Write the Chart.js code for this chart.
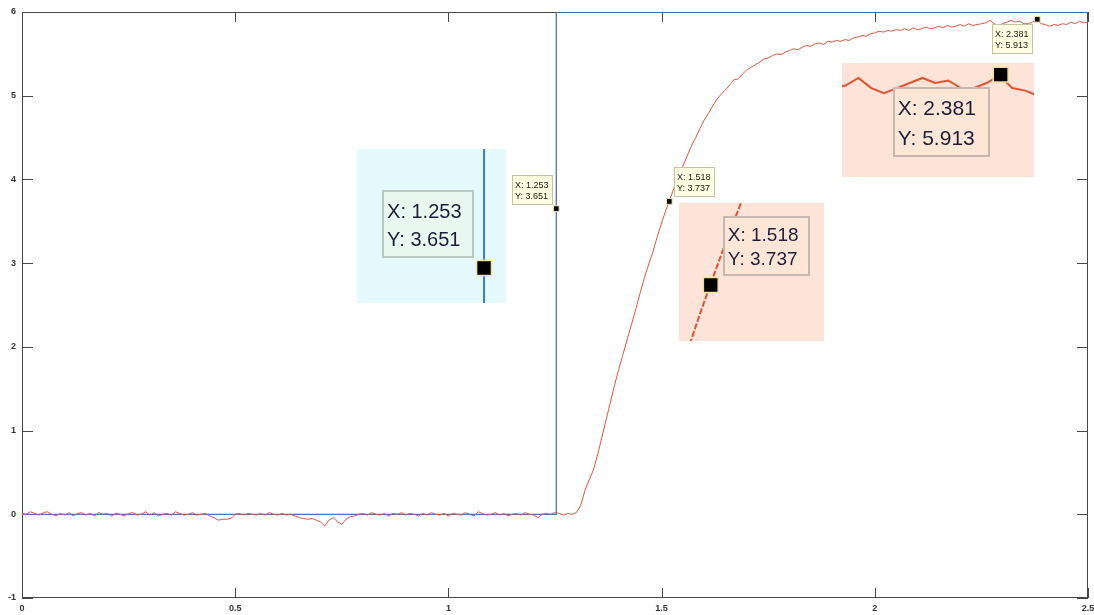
<!DOCTYPE html>
<html>
<head>
<meta charset="utf-8">
<title>Step input and measured response</title>
<script src="https://cdn.jsdelivr.net/npm/chart.js@4.4.1/dist/chart.umd.min.js"></script>
<style>
  html, body { margin: 0; padding: 0; background: #ffffff; overflow: hidden; }
  #wrap { position: relative; width: 1094px; height: 615px; }
  #main { position: absolute; left: 0; top: 0; }
  .inset { position: absolute; }
</style>
</head>
<body>
<div id="wrap"><canvas id="main" width="1094" height="615"></canvas></div>
<script>
// ---- data -------------------------------------------------------------
// measured response, one sample every SAMPLE_DT seconds starting at t = 0
const SAMPLE_DT = 0.01;
const responseY = [
  0.01, 0.00, 0.03, 0.01, -0.01, 0.02, 0.03, 0.00, -0.02, 0.01,
  -0.01, 0.02, -0.02, 0.01, 0.02, -0.01, 0.01, -0.02, 0.02, 0.00,
  0.01, -0.02, 0.01, 0.00, -0.02, 0.01, 0.02, -0.01, 0.00, 0.03,
  -0.01, 0.02, -0.02, 0.00, 0.01, -0.01, 0.03, 0.01, -0.01, 0.00,
  0.02, -0.01, 0.00, 0.01, -0.02, -0.04, -0.07, -0.06, -0.06, -0.05,
  0.00, 0.01, -0.01, 0.01, 0.00, -0.01, 0.01, -0.01, 0.02, 0.00,
  -0.01, 0.01, -0.01, 0.00, -0.02, -0.04, -0.05, -0.06, -0.05, -0.07,
  -0.09, -0.14, -0.07, -0.04, -0.09, -0.12, -0.06, -0.03, -0.02, 0.00,
  0.01, -0.01, 0.02, 0.00, -0.01, 0.01, -0.02, 0.01, 0.00, 0.02,
  -0.01, 0.01, 0.00, -0.02, 0.01, -0.01, 0.02, 0.00, -0.01, 0.01,
  -0.02, 0.01, 0.00, -0.01, 0.02, 0.00, -0.02, 0.03, 0.01, -0.01,
  0.00, 0.02, -0.01, 0.01, -0.02, 0.00, 0.01, -0.01, 0.02, 0.00,
  -0.01, -0.04, 0.00, 0.01, 0.00, 0.02, 0.01, -0.01, 0.01, 0.00,
  0.02, 0.10, 0.28, 0.41, 0.53, 0.71, 0.92, 1.13, 1.34, 1.55,
  1.74, 1.92, 2.10, 2.28, 2.46, 2.65, 2.83, 2.99, 3.14, 3.32,
  3.48, 3.63, 3.77, 3.91, 4.04, 4.16, 4.28, 4.40, 4.50, 4.61,
  4.71, 4.79, 4.88, 4.96, 5.02, 5.07, 5.13, 5.19, 5.20, 5.26,
  5.31, 5.34, 5.37, 5.40, 5.44, 5.45, 5.48, 5.50, 5.49, 5.52,
  5.54, 5.56, 5.55, 5.58, 5.60, 5.59, 5.62, 5.63, 5.61, 5.65,
  5.64, 5.66, 5.65, 5.67, 5.66, 5.69, 5.70, 5.72, 5.71, 5.74,
  5.75, 5.77, 5.76, 5.78, 5.77, 5.79, 5.78, 5.80, 5.78, 5.81,
  5.79, 5.80, 5.82, 5.80, 5.81, 5.83, 5.81, 5.84, 5.82, 5.83,
  5.85, 5.83, 5.86, 5.84, 5.85, 5.86, 5.87, 5.90, 5.86, 5.84,
  5.86, 5.88, 5.90, 5.88, 5.89, 5.86, 5.86, 5.88, 5.91, 5.86,
  5.85, 5.83, 5.85, 5.84, 5.86, 5.85, 5.88, 5.86, 5.89, 5.87, 5.88
];

// commanded step input
const stepX = [0, 1.253, 1.253, 2.5];
const stepY = [0, 0, 6, 6];

// data cursors
const tipX = [1.253, 1.518, 2.381];
const tipY = [3.651, 3.737, 5.913];

// axis ticks
const xTicks = [0, 0.5, 1, 1.5, 2, 2.5];
const yTicks = [-1, 0, 1, 2, 3, 4, 5, 6];

// ---- derived point lists ---------------------------------------------
const responsePts = responseY.map((v, i) => ({ x: +(i * SAMPLE_DT).toFixed(2), y: v }));
const stepPts = stepX.map((v, i) => ({ x: v, y: stepY[i] }));
const tipPts = tipX.map((v, i) => ({ x: v, y: tipY[i] }));

const FONT = '"Liberation Sans", Arial, Helvetica, sans-serif';
Chart.defaults.font.family = FONT;

const RED = '#e2553b';
const BLUE = '#4672c8';

// ---- plugins ----------------------------------------------------------
// box around the axes with inward ticks on all four sides
const axesBox = {
  id: 'axesBox',
  beforeDatasetsDraw(chart) {
    const { ctx, chartArea: a, scales: { x, y } } = chart;
    ctx.save();
    ctx.strokeStyle = '#474747';
    ctx.lineWidth = 1;
    ctx.strokeRect(a.left + 0.5, a.top + 0.5, a.right - a.left - 1, a.bottom - a.top - 1);
    ctx.beginPath();
    xTicks.forEach(v => {
      const px = Math.round(x.getPixelForValue(v)) + 0.5;
      ctx.moveTo(px, a.bottom); ctx.lineTo(px, a.bottom - 10);
      ctx.moveTo(px, a.top); ctx.lineTo(px, a.top + 10);
    });
    yTicks.forEach(v => {
      const py = Math.round(y.getPixelForValue(v)) + 0.5;
      ctx.moveTo(a.left, py); ctx.lineTo(a.left + 11, py);
      ctx.moveTo(a.right, py); ctx.lineTo(a.right - 11, py);
    });
    ctx.stroke();
    ctx.restore();
  }
};

// small yellow cursor labels next to each marker
const tipPlacement = [
  { side: 'left', gap: 3, dy: -34 },
  { side: 'right', gap: 5, dy: -34 },
  { side: 'left', gap: 4, dy: 5 }
];
const dataTips = {
  id: 'dataTips',
  afterDatasetsDraw(chart) {
    const { ctx, scales: { x, y } } = chart;
    ctx.save();
    ctx.font = '9px ' + FONT;
    ctx.textAlign = 'left';
    ctx.textBaseline = 'alphabetic';
    tipX.forEach((tx, i) => {
      const px = x.getPixelForValue(tx);
      const py = y.getPixelForValue(tipY[i]);
      const l1 = 'X: ' + tx.toFixed(3);
      const l2 = 'Y: ' + tipY[i].toFixed(3);
      const w = Math.ceil(Math.max(ctx.measureText(l1).width, ctx.measureText(l2).width)) + 7;
      const h = 30;
      const p = tipPlacement[i];
      const bx = Math.round(p.side === 'left' ? px - w - p.gap : px + p.gap);
      const by = Math.round(py + p.dy);
      ctx.fillStyle = '#ffffe1';
      ctx.fillRect(bx, by, w, h);
      ctx.strokeStyle = '#c2c2a4';
      ctx.lineWidth = 1;
      ctx.strokeRect(bx + 0.5, by + 0.5, w - 1, h - 1);
      ctx.fillStyle = '#151515';
      ctx.fillText(l1, bx + 3, by + 12.5);
      ctx.fillText(l2, bx + 3, by + 24);
    });
    ctx.restore();
  }
};

const tickLabel = v => String(v);

// ---- main chart -------------------------------------------------------
const mainChart = new Chart(document.getElementById('main'), {
  type: 'line',
  data: {
    datasets: [
      {
        label: 'cursor',
        data: tipPts,
        showLine: false,
        pointStyle: 'rect',
        pointRadius: 4,
        pointBackgroundColor: '#000000',
        pointBorderColor: '#e9e2a6',
        pointBorderWidth: 1
      },
      {
        label: 'response',
        data: responsePts,
        borderColor: RED,
        borderWidth: 1,
        pointRadius: 0,
        tension: 0
      },
      {
        label: 'input',
        data: stepPts,
        borderColor: BLUE,
        borderWidth: 1.3,
        pointRadius: 0,
        tension: 0
      }
    ]
  },
  options: {
    responsive: false,
    animation: false,
    devicePixelRatio: 1,
    events: [],
    layout: { autoPadding: false, padding: { top: 12, right: 6, left: 0, bottom: 0 } },
    plugins: { legend: { display: false }, tooltip: { enabled: false } },
    scales: {
      x: {
        type: 'linear',
        min: 0, max: 2.5,
        grid: { display: false, drawTicks: false },
        border: { display: false },
        afterBuildTicks: s => { s.ticks = xTicks.map(v => ({ value: v })); },
        afterFit: s => { s.height = 17; s.paddingLeft = 0; s.paddingRight = 0; },
        ticks: {
          autoSkip: false, maxRotation: 0, padding: 5,
          color: '#333333',
          font: { size: 9, weight: 'bold' },
          callback: tickLabel
        }
      },
      y: {
        type: 'linear',
        min: -1, max: 6,
        grid: { display: false, drawTicks: false },
        border: { display: false },
        afterBuildTicks: s => { s.ticks = yTicks.map(v => ({ value: v })); },
        afterFit: s => { s.width = 22; s.paddingTop = 0; s.paddingBottom = 0; },
        ticks: {
          autoSkip: false, padding: 6,
          color: '#333333',
          font: { size: 9, weight: 'bold' },
          callback: tickLabel
        }
      }
    }
  },
  plugins: [axesBox, dataTips]
});

// ---- magnified views around the cursors -------------------------------
const insetSpecs = [
  {
    tip: 0, series: 'input',
    area: { x0: 0.785, x1: 1.135, y0: 2.52, y1: 4.36 },
    view: { x0: 1.1535, x1: 1.2702, y0: 3.512, y1: 4.123 },
    bg: '#e3f9fc', labelBg: '#e8f8ee', labelEdge: '#b7cac2',
    fontSize: 20,
    box: { dx: -102, dy: -78, w: 92, h: 68 },
    text: { dx: -97, dy1: -50, dy2: -22 }
  },
  {
    tip: 1, series: 'response',
    area: { x0: 1.5408, x1: 1.8809, y0: 2.07, y1: 3.722 },
    view: { x0: 1.493, x1: 1.607, y0: 3.515, y1: 4.062 },
    bg: '#fde3d8', labelBg: '#fde6d6', labelEdge: '#c6b8b0',
    fontSize: 19,
    box: { dx: 12, dy: -69, w: 87, h: 60 },
    text: { dx: 17, dy1: -44, dy2: -20 }
  },
  {
    tip: 2, series: 'response',
    area: { x0: 1.9238, x1: 2.3734, y0: 4.033, y1: 5.388 },
    view: { x0: 2.2572, x1: 2.407, y0: 5.509, y1: 5.959 },
    bg: '#fde3d8', labelBg: '#fde6d6', labelEdge: '#c6b8b0',
    fontSize: 21,
    box: { dx: -108, dy: 12, w: 97, h: 70 },
    text: { dx: -103, dy1: 40, dy2: 70 }
  }
];

const wrap = document.getElementById('wrap');
const mx = mainChart.scales.x;
const my = mainChart.scales.y;

insetSpecs.forEach(spec => {
  const left = Math.round(mx.getPixelForValue(spec.area.x0));
  const right = Math.round(mx.getPixelForValue(spec.area.x1));
  const top = Math.round(my.getPixelForValue(spec.area.y1));
  const bottom = Math.round(my.getPixelForValue(spec.area.y0));
  const cv = document.createElement('canvas');
  cv.className = 'inset';
  cv.width = right - left;
  cv.height = bottom - top;
  cv.style.left = left + 'px';
  cv.style.top = top + 'px';
  wrap.appendChild(cv);

  const curve = spec.series === 'input'
    ? { data: stepPts, borderColor: '#3a80d2', borderWidth: 2, pointRadius: 0, tension: 0 }
    : { data: responsePts, borderColor: '#e3532d', borderWidth: 2, pointRadius: 0, tension: 0,
        borderDash: spec.tip === 1 ? [6, 2] : [] };

  const background = {
    id: 'insetBackground',
    beforeDraw(chart) {
      const { ctx, width, height } = chart;
      ctx.save();
      ctx.fillStyle = spec.bg;
      ctx.fillRect(0, 0, width, height);
      ctx.restore();
    }
  };
  const label = {
    id: 'insetLabel',
    afterDatasetsDraw(chart) {
      const { ctx, scales: { x, y } } = chart;
      const px = x.getPixelForValue(tipX[spec.tip]);
      const py = y.getPixelForValue(tipY[spec.tip]);
      ctx.save();
      const bx = Math.round(px + spec.box.dx), by = Math.round(py + spec.box.dy);
      ctx.fillStyle = spec.labelBg;
      ctx.fillRect(bx, by, spec.box.w, spec.box.h);
      ctx.strokeStyle = spec.labelEdge;
      ctx.lineWidth = 2;
      ctx.strokeRect(bx + 1, by + 1, spec.box.w - 2, spec.box.h - 2);
      ctx.fillStyle = '#1d1d3b';
      ctx.font = spec.fontSize + 'px ' + FONT;
      ctx.textAlign = 'left';
      ctx.textBaseline = 'alphabetic';
      ctx.fillText('X: ' + tipX[spec.tip].toFixed(3), px + spec.text.dx, py + spec.text.dy1);
      ctx.fillText('Y: ' + tipY[spec.tip].toFixed(3), px + spec.text.dx, py + spec.text.dy2);
      ctx.restore();
    }
  };

  new Chart(cv, {
    type: 'line',
    data: {
      datasets: [
        {
          data: [tipPts[spec.tip]],
          showLine: false,
          pointStyle: 'rect',
          pointRadius: 10.5,
          pointBackgroundColor: '#000000',
          pointBorderColor: '#eee2a0',
          pointBorderWidth: 1.5
        },
        curve
      ]
    },
    options: {
      responsive: false,
      animation: false,
      devicePixelRatio: 1,
      events: [],
      layout: { autoPadding: false, padding: 0 },
      plugins: { legend: { display: false }, tooltip: { enabled: false } },
      scales: {
        x: { type: 'linear', display: false, min: spec.view.x0, max: spec.view.x1 },
        y: { type: 'linear', display: false, min: spec.view.y0, max: spec.view.y1 }
      }
    },
    plugins: [background, label]
  });
});
</script>
</body>
</html>
